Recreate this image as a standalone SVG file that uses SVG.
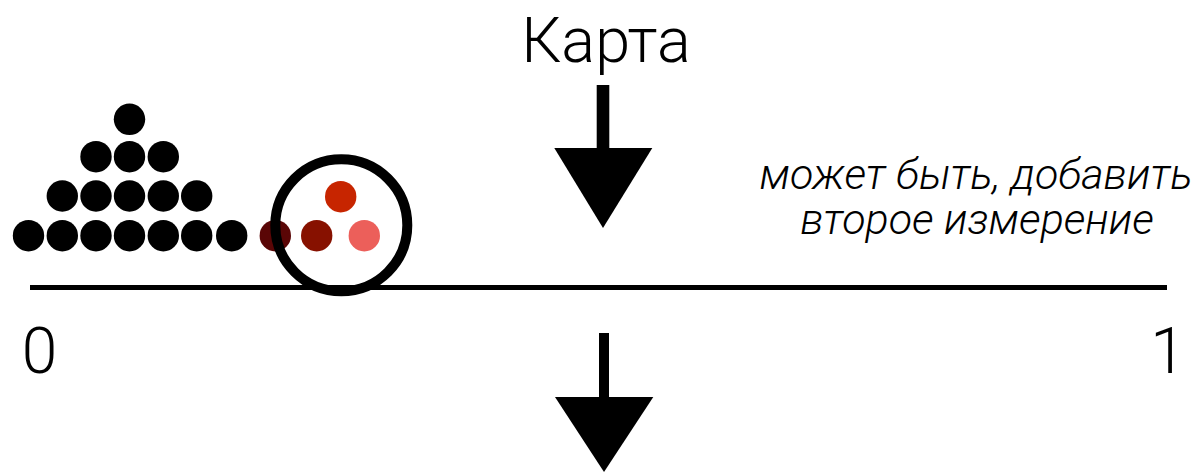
<svg xmlns="http://www.w3.org/2000/svg" width="1193" height="472" viewBox="0 0 1193 472">
<style>
.lbl{font-family:Roboto,"Liberation Sans",sans-serif;font-weight:300;fill:#000}
.dot{fill:#000}
.arr{fill:#000}
</style>
<rect width="1193" height="472" fill="#fff"/>
<g id="title"><text class="lbl" x="606" y="62" font-size="63" text-anchor="middle">Карта</text></g>
<g id="note"><text class="lbl" x="976" y="189" font-size="43" font-style="italic" text-anchor="middle">может быть, добавить</text>
<text class="lbl" x="977" y="234" font-size="43" font-style="italic" text-anchor="middle">второе измерение</text></g>
<g id="dots">
<circle class="dot" cx="28.5" cy="235.7" r="15.7"/>
<circle class="dot" cx="62.3" cy="235.7" r="15.7"/>
<circle class="dot" cx="96" cy="235.7" r="15.7"/>
<circle class="dot" cx="129.5" cy="235.7" r="15.7"/>
<circle class="dot" cx="163.3" cy="235.7" r="15.7"/>
<circle class="dot" cx="196.7" cy="235.7" r="15.7"/>
<circle class="dot" cx="231.7" cy="235.7" r="15.7"/>
<circle class="dot" cx="62.3" cy="196" r="15.7"/>
<circle class="dot" cx="96" cy="196" r="15.7"/>
<circle class="dot" cx="129.5" cy="196" r="15.7"/>
<circle class="dot" cx="163.3" cy="196" r="15.7"/>
<circle class="dot" cx="196.7" cy="196" r="15.7"/>
<circle class="dot" cx="96" cy="156.7" r="15.7"/>
<circle class="dot" cx="129.5" cy="156.7" r="15.7"/>
<circle class="dot" cx="163.3" cy="156.7" r="15.7"/>
<circle class="dot" cx="129.5" cy="119.3" r="15.7"/>
<circle cx="275.3" cy="235.7" r="15.7" fill="#5a0606"/>
<circle cx="316.7" cy="235.7" r="15.7" fill="#871100"/>
<circle cx="364.3" cy="235.7" r="15.7" fill="#ec5f5a"/>
<circle cx="340.7" cy="196.7" r="15.7" fill="#c72500"/>
</g>
<g id="axis">
<rect x="30" y="285" width="1137" height="5" fill="#000"/>
<text class="lbl" x="39.5" y="373" font-size="64" text-anchor="middle">0</text>
<text class="lbl" x="1168" y="373" font-size="64" text-anchor="middle">1</text>
</g>
<g id="highlight"><circle cx="341.3" cy="225.3" r="66" fill="none" stroke="#000" stroke-width="10"/></g>
<g id="connectors">
<rect x="596.7" y="85" width="12.6" height="64" fill="#000"/>
<polygon class="arr" points="554.3,148 652.3,148 603,228"/>
<rect x="599" y="333" width="10" height="65" fill="#000"/>
<polygon class="arr" points="555,397 653.3,397 604,472"/>
</g>
</svg>
